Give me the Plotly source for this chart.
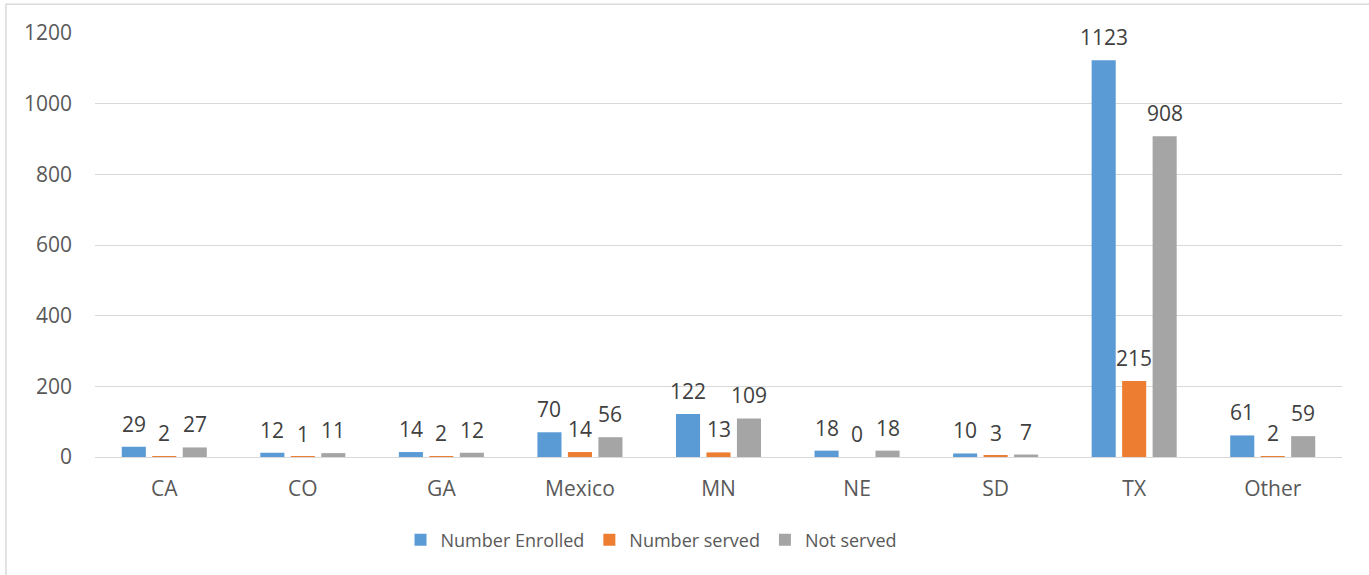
import plotly.graph_objects as go

states = ["CA", "CO", "GA", "Mexico", "MN", "NE", "SD", "TX", "Other"]
enrolled = [29, 12, 14, 70, 122, 18, 10, 1123, 61]
served = [2, 1, 2, 14, 13, 0, 3, 215, 2]
not_served = [27, 11, 12, 56, 109, 18, 7, 908, 59]
y_ticks = [0, 200, 400, 600, 800, 1000, 1200]

series = [
    ("Number Enrolled", enrolled, "#5B9BD5"),
    ("Number served", served, "#ED7D31"),
    ("Not served", not_served, "#A5A5A5"),
]

FONT = "Open Sans"
WIDTH, HEIGHT = 1369, 575
M_L, M_R, M_T, M_B = 95, 27, 33, 118
BARGAP = 0.34

fig = go.Figure()
for name, vals, color in series:
    fig.add_trace(go.Bar(
        x=states, y=vals, name=name,
        marker=dict(color=color, line=dict(width=0)),
        cliponaxis=False,
    ))

# value labels above each bar, shifted sideways to the bar's slot in its group
cat_px = (WIDTH - M_L - M_R) / len(states)
slot_px = cat_px * (1 - BARGAP) / len(series)
annotations = []
for i, (name, vals, color) in enumerate(series):
    for s, v in zip(states, vals):
        annotations.append(dict(
            x=s, y=v, text=str(v), showarrow=False,
            xanchor="center", yanchor="bottom",
            xshift=(i - 1) * slot_px, yshift=7,
            font=dict(family=FONT, size=21, color="#404040"),
        ))

fig.update_layout(
    width=WIDTH, height=HEIGHT,
    margin=dict(l=M_L, r=M_R, t=M_T, b=M_B),
    paper_bgcolor="white", plot_bgcolor="white",
    barmode="group", bargap=BARGAP, bargroupgap=0.21,
    font=dict(family=FONT, size=21, color="#595959"),
    showlegend=True,
    legend=dict(orientation="h", x=0.245, xanchor="left", y=-0.152, yanchor="top",
                font=dict(family=FONT, size=18, color="#595959"),
                traceorder="normal"),
    xaxis=dict(showgrid=False, showline=True, linecolor="#D9D9D9", linewidth=1,
               ticks="", ticklabelstandoff=13),
    yaxis=dict(range=[0, 1200], tickvals=y_ticks, showgrid=True, gridcolor="#D9D9D9",
               gridwidth=1, zeroline=False, showline=False, ticks="", ticklabelstandoff=22),
    annotations=annotations,
    shapes=[dict(type="rect", xref="paper", yref="paper",
                 x0=-0.0714, x1=1.5, y0=-2, y1=1.068,
                 line=dict(color="#D9D9D9", width=1.5), fillcolor="rgba(0,0,0,0)",
                 layer="below")],
)

fig.write_html("out.html")
